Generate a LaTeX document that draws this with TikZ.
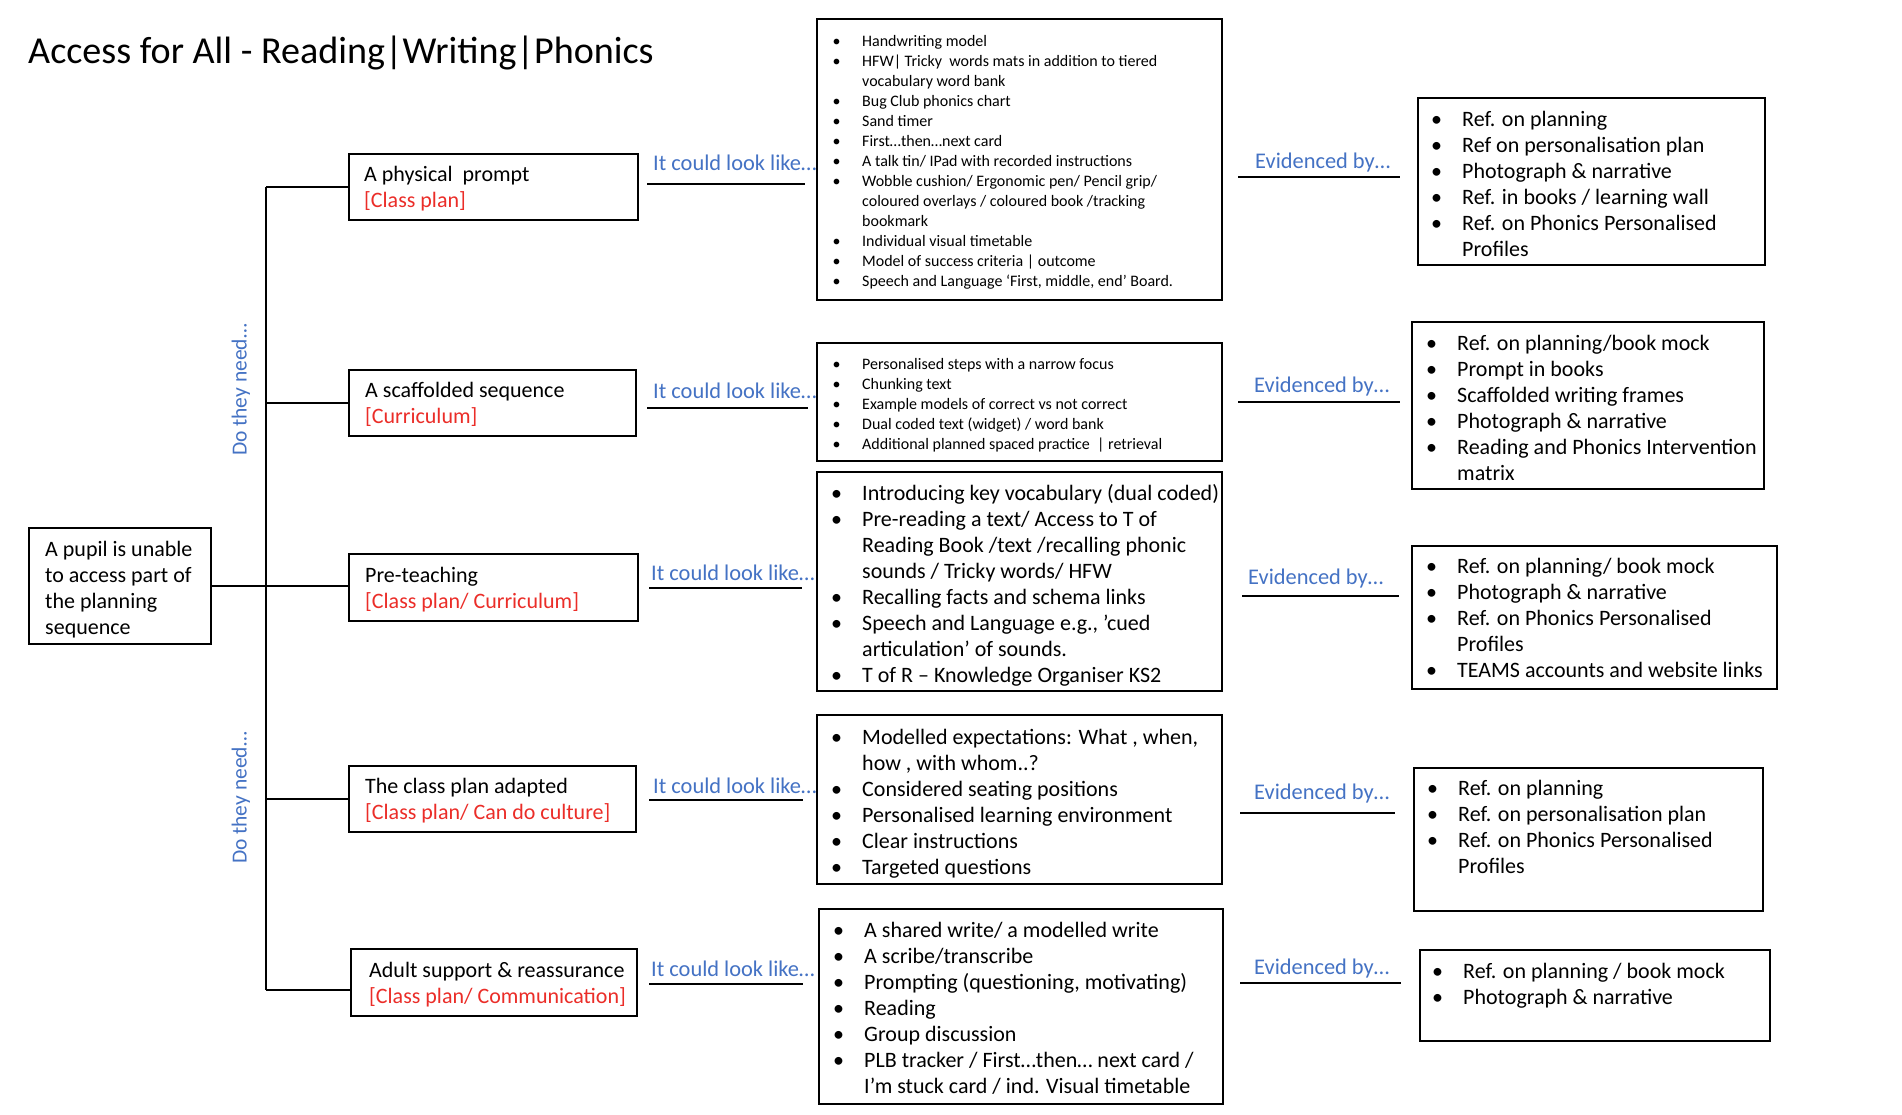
\documentclass[tikz,border=0pt]{standalone}
\usepackage{fontspec}
\setmainfont{Carlito}
\usetikzlibrary{fit}
\definecolor{lblue}{RGB}{68,114,196}
\definecolor{lred}{RGB}{235,45,40}
\newcommand{\bl}{\llap{\makebox[0pt][c]{•}\hspace{25.5pt}}}
\begin{document}
\begin{tikzpicture}[x=1pt,y=-1pt,
  box/.style={draw, line width=2.2pt, inner sep=0pt, outer sep=0pt},
  conn/.style={line width=1.3pt},
  big/.style={font=\fontsize{22}{26}\selectfont},
  small/.style={font=\fontsize{16}{20}\selectfont},
  txt/.style={inner sep=0pt, anchor=base west},
  lbl/.style={txt, font=\fontsize{22.4}{26}\selectfont, text=lblue},
]
\useasboundingbox[fill=white] (0,0) rectangle (1902,1114);

% title
\node[txt, font=\fontsize{38.1}{44}\selectfont] (title) at (28,63) {Access for All - Reading|Writing|Phonics};

% boxes
\node[box, fit={(29,528) (211,644)}] (pupil) {};
\node[box, fit={(349,154) (638,220)}] (b1) {};
\node[box, fit={(349,370) (636,436)}] (b2) {};
\node[box, fit={(349,554) (638,621)}] (b3) {};
\node[box, fit={(349,766) (636,832)}] (b4) {};
\node[box, fit={(351,949) (637,1016)}] (b5) {};
\node[box, fit={(817,19) (1222,300)}] (l1) {};
\node[box, fit={(817,343) (1222,461)}] (l2) {};
\node[box, fit={(817,472) (1222,691)}] (l3) {};
\node[box, fit={(817,715) (1222,884)}] (l4) {};
\node[box, fit={(819,909) (1223,1104)}] (l5) {};
\node[box, fit={(1418,98) (1765,265)}] (r1) {};
\node[box, fit={(1412,322) (1764,489)}] (r2) {};
\node[box, fit={(1412,546) (1777,689)}] (r3) {};
\node[box, fit={(1414,768) (1763,911)}] (r4) {};
\node[box, fit={(1420,950) (1770,1041)}] (r5) {};

% box texts
\node[txt, big] (tpupil) at (45,556) {\begin{tabular}[t]{@{}l@{}}A pupil is unable\\to access part of\\the planning\\sequence\end{tabular}};
\node[txt, big] (tb1) at (364,181) {\begin{tabular}[t]{@{}l@{}}A physical~ prompt\\\textcolor{lred}{[Class plan]}\end{tabular}};
\node[txt, big] (tb2) at (365,397) {\begin{tabular}[t]{@{}l@{}}A scaffolded sequence\\\textcolor{lred}{[Curriculum]}\end{tabular}};
\node[txt, big] (tb3) at (365,582) {\begin{tabular}[t]{@{}l@{}}Pre-teaching\\\textcolor{lred}{[Class plan/ Curriculum]}\end{tabular}};
\node[txt, big] (tb4) at (365,793) {\begin{tabular}[t]{@{}l@{}}The class plan adapted\\\textcolor{lred}{[Class plan/ Can do culture]}\end{tabular}};
\node[txt, big] (tb5) at (369,977) {\begin{tabular}[t]{@{}l@{}}Adult support \& reassurance\\\textcolor{lred}{[Class plan/ Communication]}\end{tabular}};

% middle lists
\node[txt, small] (tl1) at (862,46) {\begin{tabular}[t]{@{}l@{}}
\bl Handwriting model\\
\bl HFW| Tricky~ words mats in addition to tiered\\
vocabulary word bank\\
\bl Bug Club phonics chart\\
\bl Sand timer\\
\bl First…then…next card\\
\bl A talk tin/ IPad with recorded instructions\\
\bl Wobble cushion/ Ergonomic pen/ Pencil grip/\\
coloured overlays / coloured book /tracking\\
bookmark\\
\bl Individual visual timetable\\
\bl Model of success criteria | outcome\\
\bl Speech and Language ‘First, middle, end’ Board.
\end{tabular}};
\node[txt, small] (tl2) at (862,369) {\begin{tabular}[t]{@{}l@{}}
\bl Personalised steps with a narrow focus\\
\bl Chunking text\\
\bl Example models of correct vs not correct\\
\bl Dual coded text (widget) / word bank\\
\bl Additional planned spaced practice~ | retrieval
\end{tabular}};
\node[txt, big] (tl3) at (862,500) {\begin{tabular}[t]{@{}l@{}}
\bl Introducing key vocabulary (dual coded)\\
\bl Pre-reading a text/ Access to T of\\
Reading Book /text /recalling phonic\\
sounds / Tricky words/ HFW\\
\bl Recalling facts and schema links\\
\bl Speech and Language e.g., ’cued\\
articulation’ of sounds.\\
\bl T of R – Knowledge Organiser KS2
\end{tabular}};
\node[txt, big] (tl4) at (862,744) {\begin{tabular}[t]{@{}l@{}}
\bl Modelled expectations: What , when,\\
how , with whom..?\\
\bl Considered seating positions\\
\bl Personalised learning environment\\
\bl Clear instructions\\
\bl Targeted questions
\end{tabular}};
\node[txt, big] (tl5) at (864,937) {\begin{tabular}[t]{@{}l@{}}
\bl A shared write/ a modelled write\\
\bl A scribe/transcribe\\
\bl Prompting (questioning, motivating)\\
\bl Reading\\
\bl Group discussion\\
\bl PLB tracker / First…then… next card /\\
I’m stuck card / ind. Visual timetable
\end{tabular}};

% right lists
\node[txt, big] (tr1) at (1462,126) {\begin{tabular}[t]{@{}l@{}}
\bl Ref. on planning\\
\bl Ref on personalisation plan\\
\bl Photograph \& narrative\\
\bl Ref. in books / learning wall\\
\bl Ref. on Phonics Personalised\\
Profiles
\end{tabular}};
\node[txt, big] (tr2) at (1457,350) {\begin{tabular}[t]{@{}l@{}}
\bl Ref. on planning/book mock\\
\bl Prompt in books\\
\bl Scaffolded writing frames\\
\bl Photograph \& narrative\\
\bl Reading and Phonics Intervention\\
matrix
\end{tabular}};
\node[txt, big] (tr3) at (1457,573) {\begin{tabular}[t]{@{}l@{}}
\bl Ref. on planning/ book mock\\
\bl Photograph \& narrative\\
\bl Ref. on Phonics Personalised\\
Profiles\\
\bl TEAMS accounts and website links
\end{tabular}};
\node[txt, big] (tr4) at (1458,795) {\begin{tabular}[t]{@{}l@{}}
\bl Ref. on planning\\
\bl Ref. on personalisation plan\\
\bl Ref. on Phonics Personalised\\
Profiles
\end{tabular}};
\node[txt, big] (tr5) at (1463,978) {\begin{tabular}[t]{@{}l@{}}
\bl Ref. on planning / book mock\\
\bl Photograph \& narrative
\end{tabular}};

% rotated labels
\node[font=\fontsize{21.5}{26}\selectfont, text=lblue, rotate=90, inner sep=0pt] (dn1) at (241,390) {Do they need…};
\node[font=\fontsize{21.5}{26}\selectfont, text=lblue, rotate=90, inner sep=0pt] (dn2) at (241,798) {Do they need…};

% tree connectors
\coordinate (tt) at (266,187);
\coordinate (tb) at (266,990);
\draw[conn] (tt) -- (tb);
\draw[conn] (tt) -- (tt -| b1.west);
\draw[conn] (tt |- b2.west) -- (b2.west);
\draw[conn] (tt |- b4.west) -- (b4.west);
\draw[conn] (tb) -- (tb -| b5.west);
\draw[conn] (pupil.east) -- (pupil.east -| b3.west);

% "It could look like..." labels and rules
\node[lbl] (i1) at (653,170) {It could look like…};
\node[lbl] (i2) at (653,398) {It could look like…};
\node[lbl] (i3) at (651,580) {It could look like…};
\node[lbl] (i4) at (653,793) {It could look like…};
\node[lbl] (i5) at (651,976) {It could look like…};
\coordinate (ia1) at (647,184); \coordinate (ib1) at (805,184);
\coordinate (ia2) at (647,408); \coordinate (ib2) at (808,408);
\coordinate (ia3) at (649,588); \coordinate (ib3) at (802,588);
\coordinate (ia4) at (649,800); \coordinate (ib4) at (803,800);
\coordinate (ia5) at (649,984); \coordinate (ib5) at (803,984);
\foreach \k in {1,...,5} {\draw[conn] (ia\k) -- (ib\k);}

% "Evidenced by..." labels and rules
\node[lbl] (e1) at (1255,168) {Evidenced by…};
\node[lbl] (e2) at (1254,392) {Evidenced by…};
\node[lbl] (e3) at (1248,584) {Evidenced by…};
\node[lbl] (e4) at (1254,799) {Evidenced by…};
\node[lbl] (e5) at (1254,974) {Evidenced by…};
\coordinate (ea1) at (1238,177); \coordinate (eb1) at (1400,177);
\coordinate (ea2) at (1238,402); \coordinate (eb2) at (1400,402);
\coordinate (ea3) at (1242,596); \coordinate (eb3) at (1399,596);
\coordinate (ea4) at (1240,813); \coordinate (eb4) at (1395,813);
\coordinate (ea5) at (1240,983); \coordinate (eb5) at (1401,983);
\foreach \k in {1,...,5} {\draw[conn] (ea\k) -- (eb\k);}
\end{tikzpicture}
\end{document}
